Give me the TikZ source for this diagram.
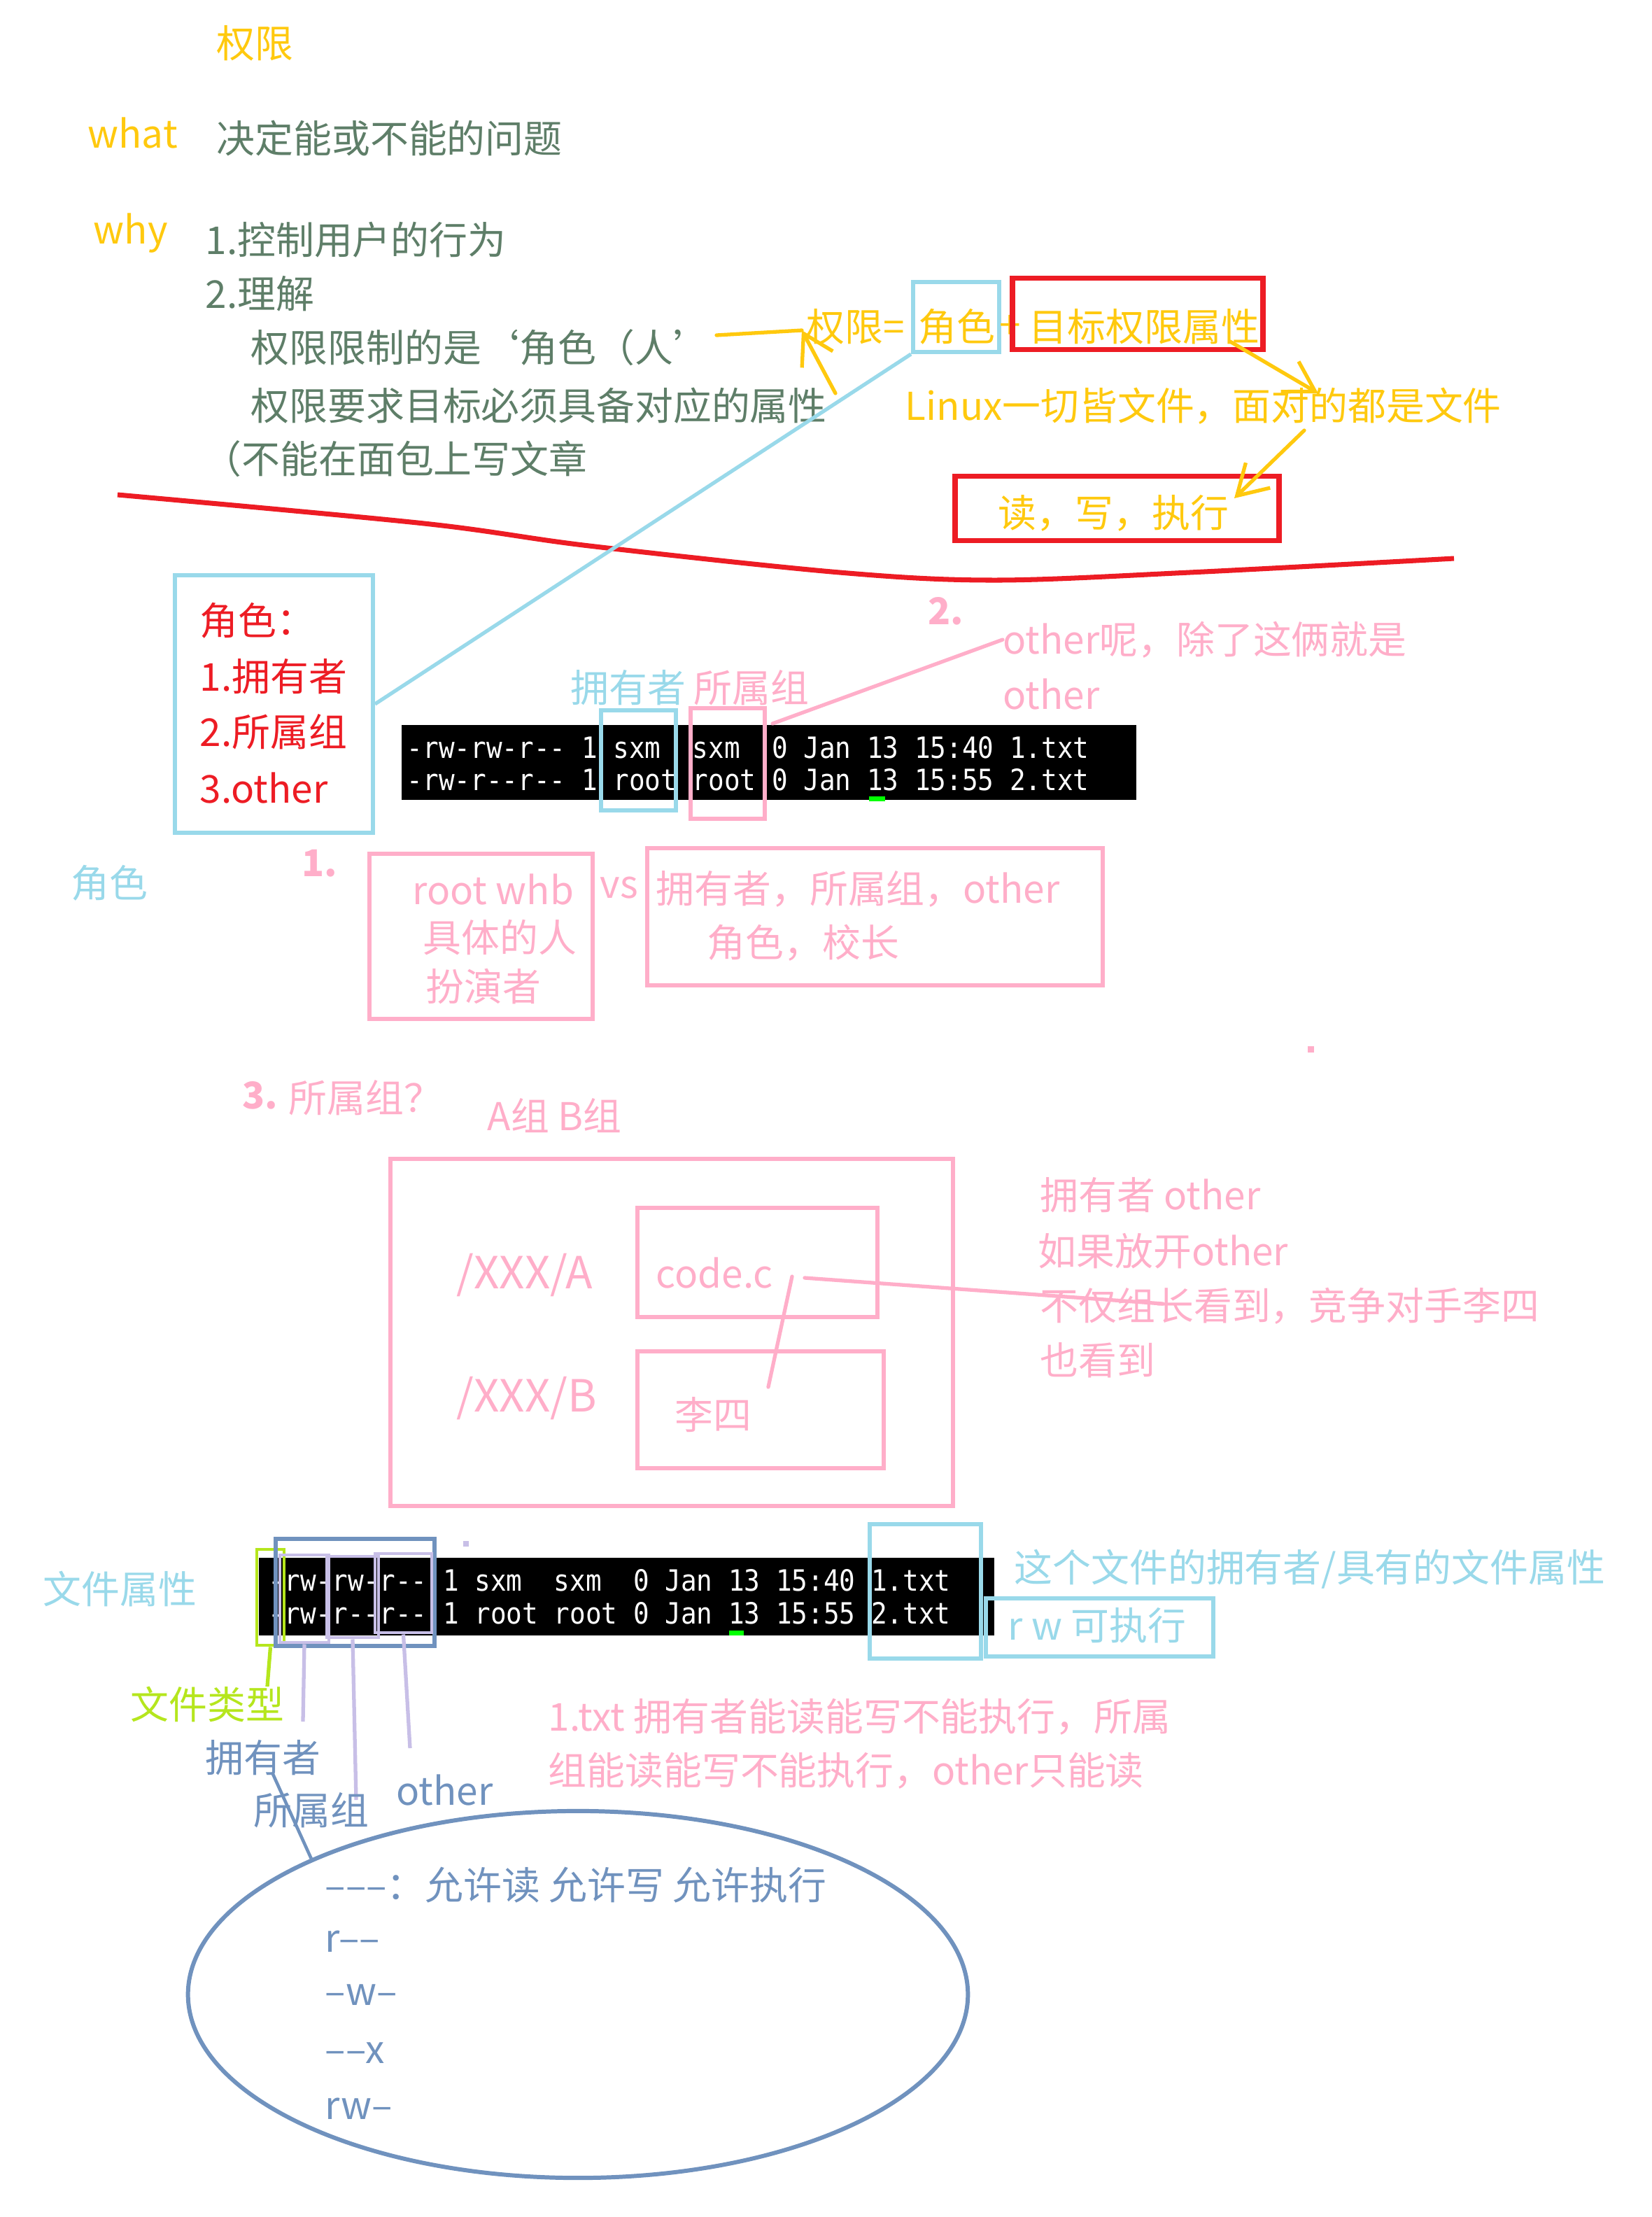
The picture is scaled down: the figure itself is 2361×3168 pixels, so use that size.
\documentclass[tikz,border=0pt]{standalone}
\usepackage{fontspec}
\setmainfont{Noto Sans CJK SC}
\setmonofont{DejaVu Sans Mono}
\newfontfamily\termfont{DejaVu Sans Mono}[FakeStretch=0.9]
\usetikzlibrary{arrows.meta,fit,shapes.geometric}
\definecolor{gold}{HTML}{FFC90E}
\definecolor{dgreen}{HTML}{5E7E68}
\definecolor{lblue}{HTML}{99D9EA}
\definecolor{mred}{HTML}{ED1C24}
\definecolor{mpink}{HTML}{FFAEC9}
\definecolor{steel}{HTML}{7092BE}
\definecolor{lav}{HTML}{C8BFE7}
\definecolor{lime}{HTML}{B5E61D}
\definecolor{cursorgreen}{HTML}{00FF00}
\tikzset{
  txt/.style={anchor=west, inner sep=0pt, font=\fontsize{15.6pt}{18pt}\selectfont},
  bignum/.style={inner sep=0pt, font=\fontsize{15pt}{18pt}\selectfont\bfseries, text=mpink},
  termtxt/.style={anchor=west, inner sep=0pt, text=white, font=\termfont\fontsize{11.9pt}{13pt}\selectfont},
  bx/.style={draw, inner sep=0pt, line width=1.7pt},
  redbx/.style={draw=mred, inner sep=0pt, line width=2pt},
  goldline/.style={draw=gold, line width=1.5pt, line cap=round},
  pinkline/.style={draw=mpink, line width=1.5pt, line cap=round},
  lavline/.style={draw=lav, line width=1.5pt},
  barb/.style={-{Straight Barb[length=0.42cm,width=0.5cm]}},
}
\begin{document}
\begin{tikzpicture}[x=0.01cm,y=-0.01cm]
\useasboundingbox[fill=white] (0,0) rectangle (2361,3168);

% ---------- top notes ----------
\node[txt,text=gold] (tq) at (309,62) {权限};
\node[txt,text=gold] (twhat) at (125,190) {what};
\node[txt,text=dgreen] (twhatd) at (309,198) {决定能或不能的问题};
\node[txt,text=gold] (twhy) at (133,333) {why};
\node[txt,text=dgreen] (tw1) at (293,343) {1.控制用户的行为};
\node[txt,text=dgreen] (tw2) at (293,420) {2.理解};
\node[txt,text=dgreen] (tl1) at (358,497) {权限限制的是‘角色（人’};
\node[txt,text=dgreen] (tl2) at (358,580) {权限要求目标必须具备对应的属性};
\node[txt,text=dgreen] (tl3) at (290,656) {（不能在面包上写文章};

% formula
\node[txt,text=gold] (teq) at (1152,467) {权限=};
\node[bx,draw=lblue,fit={(1305,403) (1428,503)}] (brole) {};
\node[txt,text=gold] (trole) at (1312,467) {角色};
\node[txt,text=gold] (tplus) at (1428,467) {+};
\node[redbx,fit={(1447,397) (1805,499)}] (rtarget) {};
\node[txt,text=gold] (ttarget) at (1470,467) {目标权限属性};

\coordinate (a1start) at (1024,479);
\coordinate (a1apex) at (1146,472);
\coordinate (a1tail) at (1194,562);
\draw[goldline] (a1start) -- (a1apex);
\draw[goldline,barb] (a1tail) -- (a1apex);

\node[txt,text=gold] (tlinux) at (1293,580) {Linux一切皆文件，面对的都是文件};
\coordinate (a2tail) at (1758,488);
\coordinate (a2apex) at (1884,562);
\draw[goldline,barb] (a2tail) -- (a2apex);

\node[redbx,fit={(1365,680) (1828,772)}] (rrwx) {};
\node[txt,text=gold] (trwx) at (1426,733) {读，写，执行};
\coordinate (a3tail) at (1864,615);
\coordinate (a3apex) at (1764,712);
\draw[goldline,barb] (a3tail) -- (a3apex);

% red divider
\draw[draw=mred, line width=2pt] plot[smooth, tension=0.55] coordinates
  {(168,707) (606,748) (842,780) (1200,818) (1422,829) (1700,818) (2078,798)};

% ---------- roles ----------
\node[bx,draw=lblue,fit={(250,822) (533,1190)}] (rolebox) {};
\node[txt,text=mred] (rr0) at (285,887) {角色：};
\node[txt,text=mred] (rr1) at (285,967) {1.拥有者};
\node[txt,text=mred] (rr2) at (285,1046) {2.所属组};
\node[txt,text=mred] (rr3) at (285,1126) {3.other};
\draw[draw=lblue, line width=1.5pt] (brole.south west) -- (rolebox.east);
\node[txt,text=lblue] (trolel) at (101,1262) {角色};

% terminal 1
\node[fill=black, inner sep=0pt, fit={(574,1036) (1624,1143)}] (term1) {};
\node[termtxt] (t1l1) at (581,1068) {-rw-rw-r-- 1 sxm\ \ sxm\ \ 0 Jan 13 15:40 1.txt};
\node[termtxt] (t1l2) at (581,1114) {-rw-r--r-- 1 root root 0 Jan 13 15:55 2.txt};
\node[fill=cursorgreen, inner sep=0pt, fit={(1242,1138) (1265,1145)}] (cur1) {};
\node[bx,draw=lblue,fit={(859,1015) (966,1158)}] (bown1) {};
\node[bx,draw=mpink,fit={(987,1012) (1093,1170)}] (bgrp1) {};
\node[txt,text=lblue] (town1) at (815,983) {拥有者};
\node[txt,text=mpink] (tgrp1) at (991,983) {所属组};

\node[bignum] (n2) at (1352,873) {2.};
\node[txt,text=mpink] (tother1) at (1433,914) {other呢，除了这俩就是};
\node[txt,text=mpink] (tother2) at (1433,992) {other};
\coordinate (pl1a) at (1104,1034);
\draw[pinkline] (pl1a) -- (tother1.west);

\node[bignum] (n1) at (457,1234) {1.};
\node[bx,draw=mpink,fit={(528,1220) (847,1456)}] (p1) {};
\node[txt,text=mpink] (tp1a) at (589,1271) {root whb};
\node[txt,text=mpink] (tp1b) at (604,1340) {具体的人};
\node[txt,text=mpink] (tp1c) at (608,1409) {扮演者};
\node[txt,text=mpink] (tvs) at (857,1269) {vs};
\node[bx,draw=mpink,fit={(925,1212) (1576,1408)}] (p2) {};
\node[txt,text=mpink] (tp2a) at (937,1270) {拥有者，所属组，other};
\node[txt,text=mpink] (tp2b) at (1010,1347) {角色，校长};
\node[fill=mpink, inner sep=0pt, minimum size=0.09cm] (pdot) at (1873,1499) {};

% ---------- group example ----------
\node[bignum] (n3) at (372,1565) {3.};
\node[txt,text=mpink] (tgrpq) at (412,1569) {所属组？};
\node[txt,text=mpink] (tab) at (696,1594) {A组 B组};
\node[bx,draw=mpink,fit={(558,1656) (1362,2152)}] (p3) {};
\node[bx,draw=mpink,fit={(911,1726) (1254,1882)}] (pA) {};
\node[bx,draw=mpink,fit={(911,1931) (1263,2098)}] (pB) {};
\node[txt,text=mpink,font=\fontsize{18pt}{20pt}\selectfont] (txa) at (652,1822) {/XXX/A};
\node[txt,text=mpink,font=\fontsize{18pt}{20pt}\selectfont] (txb) at (652,1998) {/XXX/B};
\node[txt,text=mpink] (tcode) at (937,1819) {code.c};
\node[txt,text=mpink] (tls) at (964,2022) {李四};
\coordinate (cl1a) at (1132,1824);
\coordinate (cl1b) at (1098,1982);
\coordinate (cl2a) at (1150,1826);
\coordinate (cl2b) at (1662,1863);
\draw[pinkline] (cl1a) -- (cl1b);
\draw[pinkline] (cl2a) -- (cl2b);
\node[txt,text=mpink] (tr1) at (1486,1708) {拥有者 other};
\node[txt,text=mpink] (tr2) at (1483,1788) {如果放开other};
\node[txt,text=mpink] (tr3) at (1486,1866) {不仅组长看到，竞争对手李四};
\node[txt,text=mpink] (tr4) at (1486,1944) {也看到};

% ---------- file attributes ----------
\node[txt,text=lblue] (tattr) at (61,2270) {文件属性};
\node[fill=black, inner sep=0pt, fit={(370,2226) (1421,2337)}] (term2) {};
\node[termtxt] (t2l1) at (383,2258) {-rw-rw-r-- 1 sxm\ \ sxm\ \ 0 Jan 13 15:40 1.txt};
\node[termtxt] (t2l2) at (383,2305) {-rw-r--r-- 1 root root 0 Jan 13 15:55 2.txt};
\node[fill=cursorgreen, inner sep=0pt, fit={(1042,2330) (1063,2337)}] (cur2) {};
\node[draw=lime, inner sep=0pt, line width=1.4pt, fit={(367,2214) (406,2351)}] (btype) {};
\node[bx,draw=steel,fit={(394,2199) (621,2352)}] (bperm) {};
\node[draw=lav, inner sep=0pt, line width=1.4pt, fit={(400,2222) (470,2347)}] (bo) {};
\node[draw=lav, inner sep=0pt, line width=1.4pt, fit={(467,2224) (541,2340)}] (bg) {};
\node[draw=lav, inner sep=0pt, line width=1.4pt, fit={(536,2220) (617,2333)}] (bt) {};
\node[fill=lav, inner sep=0pt, minimum size=0.08cm] (ldot) at (666,2206) {};
\node[bx,draw=lblue,fit={(1243,2178) (1402,2370)}] (bfile) {};
\node[bx,draw=lblue,fit={(1409,2284) (1734,2367)}] (brwx) {};
\node[txt,text=lblue] (trwx2) at (1440,2323) {r w 可执行};
\node[txt,text=lblue] (tthis) at (1449,2242) {这个文件的拥有者/具有的文件属性};

\coordinate (lt) at (382,2410);
\draw[draw=lime, line width=1.5pt] (btype.south) -- (lt);
\node[txt,text=lime] (ttype) at (186,2435) {文件类型};
\coordinate (lo) at (433,2460);
\coordinate (lg) at (509,2572);
\coordinate (lx) at (586,2498);
\draw[lavline] (bo.south) -- (lo);
\draw[lavline] (bg.south) -- (lg);
\draw[lavline] (bt.south) -- (lx);
\node[txt,text=steel] (lbo) at (293,2512) {拥有者};
\node[txt,text=steel] (lbg) at (362,2587) {所属组};
\node[txt,text=steel] (lbx) at (566,2558) {other};

\node[txt,text=mpink] (tp3) at (783,2453) {1.txt 拥有者能读能写不能执行，所属};
\node[txt,text=mpink] (tp4) at (783,2530) {组能读能写不能执行，other只能读};

% ellipse
\node[draw=steel, line width=1.7pt, ellipse, minimum width=11.14cm, minimum height=5.24cm, inner sep=0pt] (ell) at (826,2850) {};
\coordinate (sl) at (390,2535);
\draw[draw=steel, line width=1.3pt] (sl) -- (ell.153);
\node[txt,text=steel] (e1) at (464,2694) {–––：允许读 允许写 允许执行};
\node[txt,text=steel] (e2) at (464,2774) {r––};
\node[txt,text=steel] (e3) at (464,2851) {–w–};
\node[txt,text=steel] (e4) at (464,2934) {––x};
\node[txt,text=steel] (e5) at (464,3013) {rw–};
\end{tikzpicture}
\end{document}
